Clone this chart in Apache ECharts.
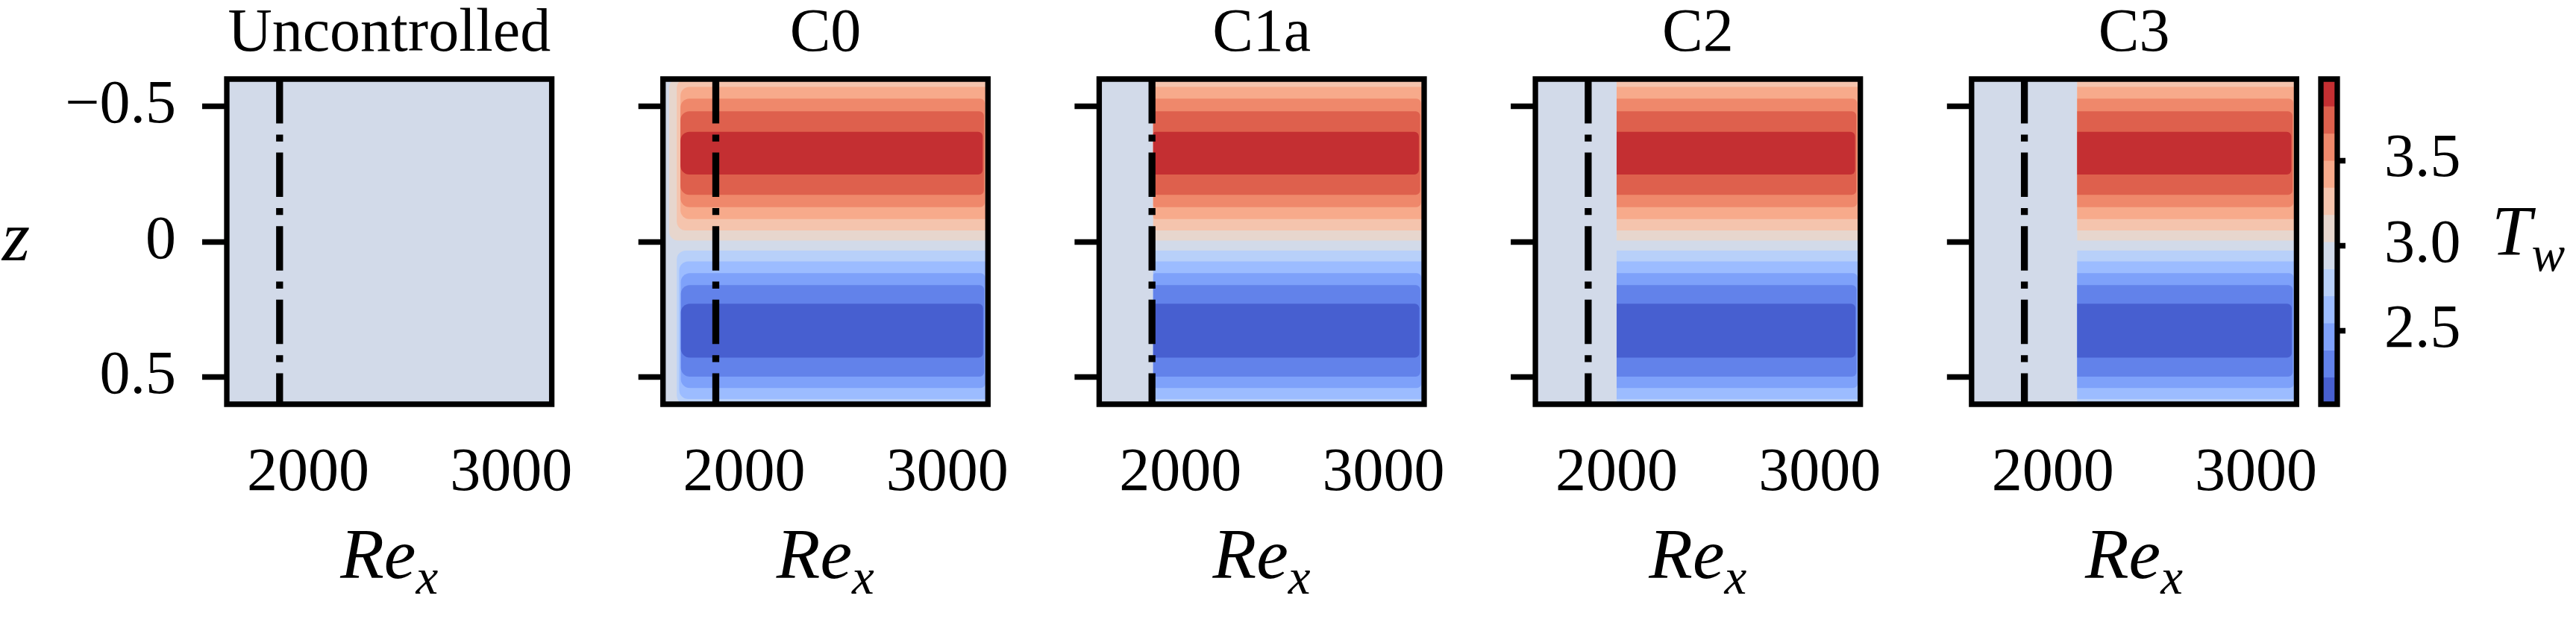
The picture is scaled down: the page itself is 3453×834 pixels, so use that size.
<!DOCTYPE html>
<html>
<head>
<meta charset="utf-8">
<script src="https://cdn.jsdelivr.net/npm/echarts@6/dist/echarts.min.js"></script>
<style>
  html, body { margin: 0; padding: 0; background: #fff; }
  #chart { width: 3453px; height: 834px; }
</style>
</head>
<body>
<div id="chart"></div>
<script>
'use strict';

// panels and axes
var panelNames = ['Uncontrolled', 'C0', 'C1a', 'C2', 'C3'];
var reLimits = [1600, 3200];
var zLimits = [-0.6, 0.6];
var reTicks = [2000, 3000];
var zTicks = [-0.5, 0, 0.5];
var markerRe = 1860; // dash-dot line

// colorbar: 12 filled contour bands of T_w (coolwarm)
var twLevels = [2.068, 2.227, 2.386, 2.545, 2.704, 2.863, 3.022, 3.181, 3.340, 3.499, 3.658, 3.817, 3.976];
var bandColors = ['#475fd0', '#6282ea', '#7ea1fa', '#9cbcff', '#b8d0f9', '#d2dae9',
                  '#e7d6cd', '#f5c4ad', '#f7aa8b', '#ef886b', '#de604d', '#c42f32'];
var twTicks = [2.5, 3.0, 3.5];
var baseTw = 3.0; // uniform wall temperature without control

// developed streak pattern, one layer per contour level
var layerBand = [6, 7, 8, 9, 10, 11, 4, 3, 2, 1, 0];
var layerZTop = [-0.6, -0.6, -0.571, -0.528, -0.481, -0.405, 0.033, 0.073, 0.116, 0.160, 0.229];
var layerZBottom = [-0.004, -0.041, -0.083, -0.127, -0.173, -0.248, 0.6, 0.581, 0.540, 0.498, 0.428];
var layerReEnd = [3200, 3200, 3200, 3184, 3180, 3174, 3200, 3200, 3186, 3181, 3176];

// Re_x where each layer begins
var startC0 = [1630, 1668, 1686, 1686, 1686, 1686, 1668, 1680, 1688, 1688, 1688];
var startC1a = [1866, 1866, 1866, 1866, 1866, 1866, 1866, 1866, 1866, 1866, 1866];
var startC2 = [2000, 2000, 2000, 2000, 2000, 2000, 2000, 2000, 2000, 2000, 2000];
var startC3 = [2120, 2120, 2120, 2120, 2120, 2120, 2120, 2120, 2120, 2120, 2120];
var layerStarts = [null, startC0, startC1a, startC2, startC3];

var FONT = '"Liberation Serif", "Times New Roman", serif';
var panelLeft = [304, 888.7, 1473.4, 2058.1, 2642.8];
var panelWidth = 435.6;
var gridTop = 106;
var gridHeight = 436;
var frameWidth = 7.3;
var onsetRadius = [0, 12, 3, 0, 0]; // softer contour onset in C0

var chart = echarts.init(document.getElementById('chart'));

function layerRenderer(panel) {
    return function (params, api) {
        var a = api.coord([api.value(0), api.value(2)]);
        var b = api.coord([api.value(1), api.value(3)]);
        var rr = api.value(1) < reLimits[1] ? 6 : 0;
        var rl = api.value(0) > reLimits[0] ? onsetRadius[panel] : 0;
        return {
            type: 'rect',
            shape: {
                x: a[0],
                y: Math.min(a[1], b[1]),
                width: b[0] - a[0],
                height: Math.abs(b[1] - a[1]),
                r: [rl, rr, rr, rl]
            },
            style: { fill: api.visual('color') }
        };
    };
}

function renderColorbar(params, api) {
    var a = api.coord([api.value(0), api.value(2)]);
    var b = api.coord([api.value(1), api.value(3)]);
    return {
        type: 'rect',
        shape: {
            x: a[0],
            y: Math.min(a[1], b[1]),
            width: b[0] - a[0],
            height: Math.abs(b[1] - a[1]) + 0.5
        },
        style: { fill: api.visual('color') }
    };
}

function fmtZ(v) {
    if (v === 0) {
        return '0';
    }
    return (v < 0 ? '\u2212' : '') + Math.abs(v).toFixed(1);
}

var tickLine = { color: '#000', width: frameWidth };
var labelRich = {
    a: { fontFamily: FONT, fontStyle: 'italic', fontSize: 96, lineHeight: 96, verticalAlign: 'top', color: '#000' },
    b: { fontFamily: FONT, fontStyle: 'italic', fontSize: 67, lineHeight: 67, verticalAlign: 'bottom', color: '#000' },
    c: { fontSize: 1, lineHeight: 110 }
};

var grids = [], xAxes = [], yAxes = [], series = [], graphics = [], mapped = [];

panelNames.forEach(function (name, i) {
    grids.push({
        left: panelLeft[i], top: gridTop, width: panelWidth, height: gridHeight,
        show: true, backgroundColor: 'transparent', borderColor: '#000', borderWidth: frameWidth,
        z: 5, outerBoundsMode: 'none', containLabel: false
    });
    xAxes.push({
        type: 'value', gridIndex: i, min: reLimits[0], max: reLimits[1],
        axisLine: { show: false },
        axisTick: { show: true, length: 33, customValues: reTicks, lineStyle: tickLine },
        axisLabel: { customValues: reTicks, margin: 52, fontSize: 82, fontFamily: FONT, color: '#000',
                     formatter: function (v) { return String(v); } },
        splitLine: { show: false },
        name: '{a|Re}{b|x}{c| }', nameLocation: 'middle', nameGap: 160,
        nameTextStyle: { rich: labelRich }
    });
    yAxes.push({
        type: 'value', gridIndex: i, min: zLimits[0], max: zLimits[1], inverse: true,
        axisLine: { show: false },
        axisTick: { show: true, length: 33, customValues: zTicks, lineStyle: tickLine },
        axisLabel: { show: i === 0, customValues: zTicks, margin: 68, formatter: fmtZ,
                     fontSize: 82, fontFamily: FONT, color: '#000' },
        splitLine: { show: false },
        name: i === 0 ? 'z' : '', nameLocation: 'middle', nameRotate: 0, nameGap: 264,
        nameTextStyle: { fontFamily: FONT, fontStyle: 'italic', fontSize: 96, color: '#000' }
    });

    var data = [[reLimits[0], reLimits[1], zLimits[0], zLimits[1], baseTw]];
    var starts = layerStarts[i];
    if (starts) {
        layerBand.forEach(function (band, k) {
            var mid = (twLevels[band] + twLevels[band + 1]) / 2;
            data.push([starts[k], layerReEnd[k], layerZTop[k], layerZBottom[k], mid]);
        });
    }
    mapped.push(series.length);
    series.push({
        type: 'custom', xAxisIndex: i, yAxisIndex: i, renderItem: layerRenderer(i),
        encode: { x: [0, 1], y: [2, 3] }, data: data, clip: true, silent: true, z: 2
    });
    series.push({
        type: 'line', xAxisIndex: i, yAxisIndex: i, symbol: 'none', silent: true, z: 3,
        data: [[markerRe, zLimits[0]], [markerRe, zLimits[1]]],
        lineStyle: { color: '#000', width: 9.3, type: [59.5, 14.9, 9.3, 14.9], cap: 'butt' }
    });

    graphics.push({
        type: 'text', x: panelLeft[i] + panelWidth / 2, y: 46,
        style: { text: name, fill: '#000', fontSize: 82, fontFamily: FONT,
                 align: 'center', verticalAlign: 'middle', textAlign: 'center', textVerticalAlign: 'middle' }
    });
});

// colorbar
var cb = panelNames.length;
grids.push({
    left: 3111, top: gridTop, width: 22, height: gridHeight,
    show: true, backgroundColor: 'transparent', borderColor: '#000', borderWidth: frameWidth,
    z: 5, outerBoundsMode: 'none', containLabel: false
});
xAxes.push({ type: 'value', gridIndex: cb, min: 0, max: 1, show: false });
yAxes.push({
    type: 'value', gridIndex: cb, position: 'right', min: twLevels[0], max: twLevels[twLevels.length - 1],
    axisLine: { show: false },
    axisTick: { show: true, length: 33, customValues: twTicks, lineStyle: tickLine },
    axisLabel: { customValues: twTicks, margin: 63, fontSize: 82, fontFamily: FONT, color: '#000',
                 formatter: function (v) { return v.toFixed(1); } },
    splitLine: { show: false },
    name: '{a|T}{b|w}{c| }', nameLocation: 'middle', nameRotate: 0, nameGap: 207,
    nameTextStyle: { rich: labelRich }
});
var cbData = [];
for (var j = 0; j < bandColors.length; j++) {
    cbData.push([0, 1, twLevels[j], twLevels[j + 1], (twLevels[j] + twLevels[j + 1]) / 2]);
}
mapped.push(series.length);
series.push({
    type: 'custom', xAxisIndex: cb, yAxisIndex: cb, renderItem: renderColorbar,
    encode: { x: [0, 1], y: [2, 3] }, data: cbData, clip: true, silent: true, z: 2
});

var pieces = bandColors.map(function (c, k) {
    return { gte: twLevels[k], lt: twLevels[k + 1], color: c };
});
pieces[pieces.length - 1].lte = twLevels[twLevels.length - 1];
delete pieces[pieces.length - 1].lt;

chart.setOption({
    animation: false,
    backgroundColor: '#fff',
    grid: grids,
    xAxis: xAxes,
    yAxis: yAxes,
    visualMap: [{
        type: 'piecewise', show: false, dimension: 4, seriesIndex: mapped, pieces: pieces
    }],
    graphic: graphics,
    series: series
});
</script>
</body>
</html>
